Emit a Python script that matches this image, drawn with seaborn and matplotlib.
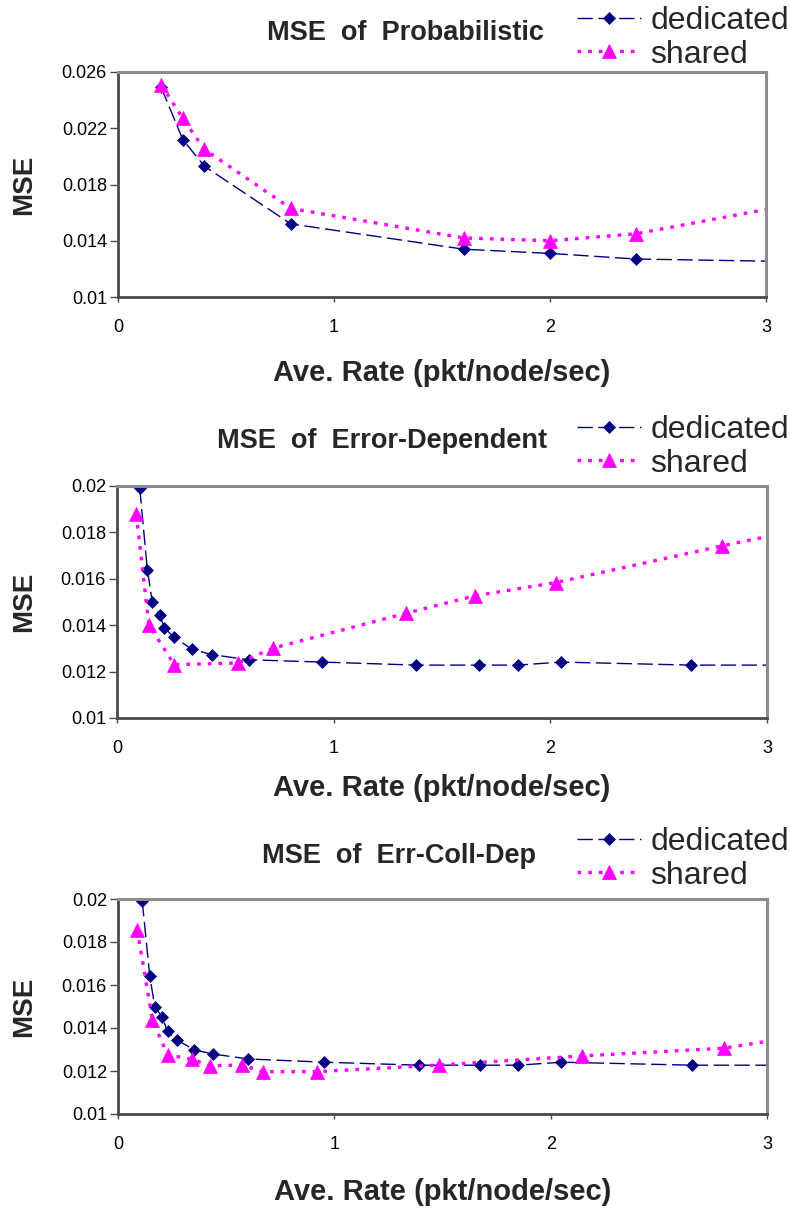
import matplotlib
matplotlib.use("Agg")
import matplotlib.pyplot as plt
import seaborn as sns

# ---------------- data ----------------
titles = ["MSE  of  Probabilistic", "MSE  of  Error-Dependent", "MSE  of  Err-Coll-Dep"]
series_names = ["dedicated", "shared"]
x_label = "Ave. Rate (pkt/node/sec)"
y_label = "MSE"

x_ticks = [0, 1, 2, 3]
x_ticklabels = ["0", "1", "2", "3"]

p_yticks = [0.01, 0.014, 0.018, 0.022, 0.026]
p_yticklabels = ["0.01", "0.014", "0.018", "0.022", "0.026"]
e_yticks = [0.01, 0.012, 0.014, 0.016, 0.018, 0.02]
e_yticklabels = ["0.01", "0.012", "0.014", "0.016", "0.018", "0.02"]

# Probabilistic
p_ded_x = [0.2, 0.3, 0.4, 0.8, 1.6, 2.0, 2.4, 3.2]
p_ded_y = [0.0249, 0.0212, 0.0193, 0.0152, 0.0134, 0.0131, 0.0127, 0.0125]
p_sh_x = [0.2, 0.3, 0.4, 0.8, 1.6, 2.0, 2.4, 3.2]
p_sh_y = [0.0251, 0.0227, 0.0205, 0.0163, 0.0142, 0.0140, 0.0145, 0.0168]

# Error-Dependent
e_ded_x = [0.105, 0.14, 0.163, 0.198, 0.217, 0.264, 0.346, 0.439, 0.607,
           0.948, 1.382, 1.669, 1.849, 2.05, 2.65, 3.2]
e_ded_y = [0.0199, 0.0164, 0.0150, 0.01445, 0.0139, 0.01347, 0.01297, 0.01273,
           0.01251, 0.01241, 0.01228, 0.01228, 0.01228, 0.01241, 0.01228, 0.01228]
e_sh_x = [0.089, 0.147, 0.264, 0.56, 0.72, 1.336, 1.653, 2.027, 2.793, 3.2]
e_sh_y = [0.01878, 0.01402, 0.0123, 0.01237, 0.01301, 0.01452, 0.01527,
          0.01584, 0.01742, 0.0182]

# Err-Coll-Dep
c_ded_x = [0.112, 0.147, 0.170, 0.205, 0.229, 0.271, 0.353, 0.439, 0.602,
           0.953, 1.392, 1.672, 1.851, 2.05, 2.652, 3.2]
c_ded_y = [0.0199, 0.0164, 0.0150, 0.01449, 0.01384, 0.01345, 0.01298, 0.01279,
           0.01256, 0.01241, 0.01227, 0.01227, 0.01227, 0.01241, 0.01227, 0.01227]
c_sh_x = [0.089, 0.159, 0.229, 0.341, 0.427, 0.574, 0.668, 0.922, 1.485,
          2.143, 2.80, 3.2]
c_sh_y = [0.01857, 0.01438, 0.01275, 0.01255, 0.01224, 0.01228, 0.01197,
          0.01197, 0.01228, 0.0127, 0.01306, 0.0137]

# ---------------- style ----------------
sns.set_theme(style="white")
plt.rcParams["font.family"] = ["Liberation Sans", "DejaVu Sans"]

W, H = 790, 1208
fig = plt.figure(figsize=(W / 100, H / 100), dpi=100)

ded_color = "#000080"
sh_color = "#FF00FF"

panels = [
    dict(title=titles[0], dx=p_ded_x, dy=p_ded_y, sx=p_sh_x, sy=p_sh_y,
         ylim=(0.01, 0.026), yt=p_yticks, ytl=p_yticklabels,
         box=(118, 72, 766, 297), title_xy=(405, 33), xlab_y=373, leg_y=38),
    dict(title=titles[1], dx=e_ded_x, dy=e_ded_y, sx=e_sh_x, sy=e_sh_y,
         ylim=(0.01, 0.02), yt=e_yticks, ytl=e_yticklabels,
         box=(117, 486, 767, 718), title_xy=(382, 441), xlab_y=788, leg_y=447),
    dict(title=titles[2], dx=c_ded_x, dy=c_ded_y, sx=c_sh_x, sy=c_sh_y,
         ylim=(0.01, 0.02), yt=e_yticks, ytl=e_yticklabels,
         box=(118, 899, 767, 1114), title_xy=(399, 856), xlab_y=1192, leg_y=859),
]

for p in panels:
    l, t, r, b = p["box"]
    ax = fig.add_axes([l / W, 1 - b / H, (r - l) / W, (b - t) / H])

    sns.lineplot(x=p["dx"], y=p["dy"], ax=ax, color=ded_color, lw=1.0,
                 linestyle=(0, (11, 4)), marker="D", markersize=6.5,
                 markeredgecolor=ded_color, markerfacecolor=ded_color,
                 markeredgewidth=0.5, label=series_names[0], sort=False)
    sns.lineplot(x=p["sx"], y=p["sy"], ax=ax, color=sh_color, lw=2.4,
                 linestyle=(0, (1.1, 2.1)), marker="^", markersize=10,
                 markeredgecolor=sh_color, markerfacecolor=sh_color,
                 markeredgewidth=0.5, label=series_names[1], sort=False)

    ax.set_xlim(0, 3)
    ax.set_ylim(*p["ylim"])
    ax.set_xticks(x_ticks)
    ax.set_xticklabels(x_ticklabels)
    ax.set_yticks(p["yt"])
    ax.set_yticklabels(p["ytl"])
    ax.set_xlabel("")
    ax.set_ylabel("")

    for side in ["left", "bottom"]:
        ax.spines[side].set_color("#4a4a4a")
        ax.spines[side].set_linewidth(2.0)
    for side in ["top", "right"]:
        ax.spines[side].set_color("#8c8c8c")
        ax.spines[side].set_linewidth(2.2)
        ax.spines[side].set_visible(True)

    ax.tick_params(axis="y", direction="out", length=6, width=1.0,
                   color="#4a4a4a", pad=2, labelsize=13, labelcolor="black",
                   left=True)
    ax.tick_params(axis="x", direction="out", length=3.5, width=1.0,
                   color="#4a4a4a", pad=12, labelsize=13, labelcolor="black",
                   bottom=True)

    leg = ax.legend(loc="center right", bbox_to_anchor=(789 / W, 1 - p["leg_y"] / H),
                    bbox_transform=fig.transFigure, frameon=False, fontsize=23,
                    handlelength=2.0, handletextpad=0.3, labelspacing=0.1,
                    borderpad=0, borderaxespad=0)

    tx, ty = p["title_xy"]
    fig.text(tx / W, 1 - ty / H, p["title"], ha="center", va="center",
             fontsize=19.5, fontweight="bold")
    fig.text(((l + r) / 2) / W, 1 - p["xlab_y"] / H, x_label, ha="center",
             va="center", fontsize=21, fontweight="bold")
    fig.text(24 / W, 1 - ((t + b) / 2) / H, y_label, ha="center", va="center",
             rotation=90, fontsize=20, fontweight="bold")

fig.savefig("out.png", dpi=100, facecolor="white")
